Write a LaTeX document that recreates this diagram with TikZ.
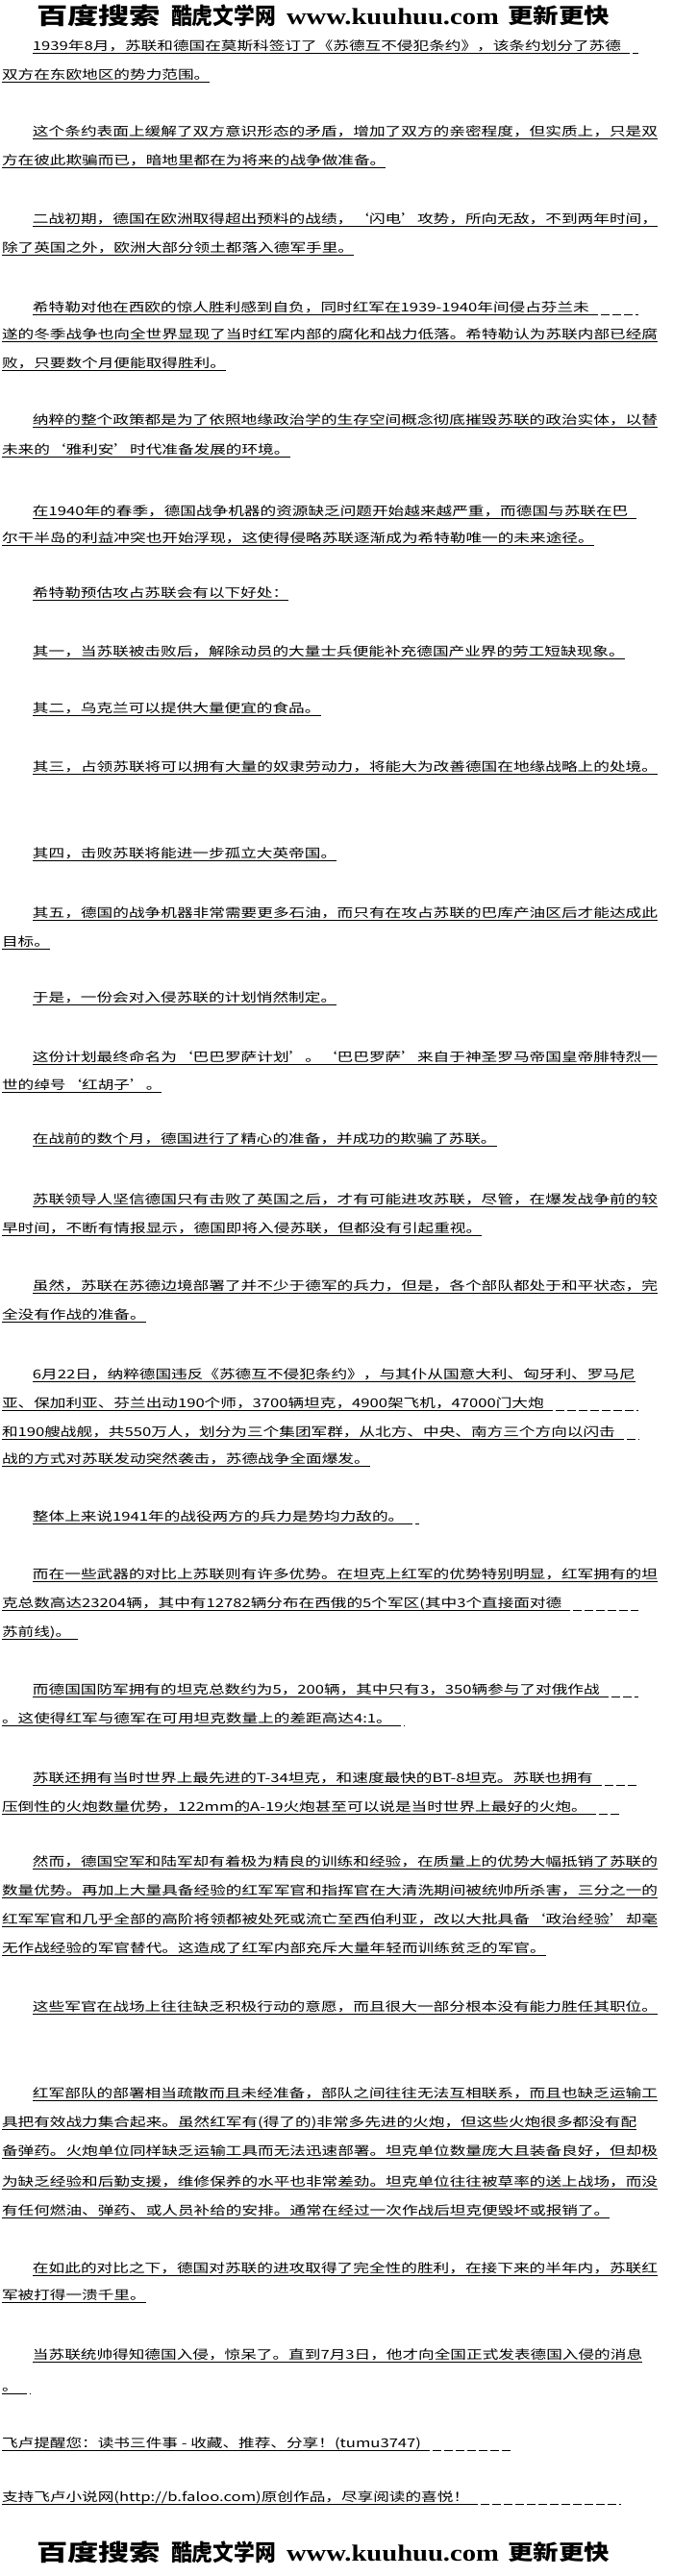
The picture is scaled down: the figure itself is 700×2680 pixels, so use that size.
\documentclass[tikz,border=0pt]{standalone}
\usepackage{fontspec}
\usepackage{graphicx}
\newfontfamily\zh{Noto Sans CJK SC}[FakeStretch=1.3]
\newfontfamily\zhh{Noto Sans CJK SC}
\newfontfamily\lser{Liberation Serif}
\tikzset{
 txt/.style={anchor=base west,inner sep=0pt,outer sep=0pt,font=\zh\fontsize{12.8}{14}\selectfont,text=black},
 ul/.style={line width=0.9pt,black},
 ext/.style={ul,dash pattern=on 9pt off 3pt},
 hdr/.style={anchor=center,inner sep=0pt,outer sep=0pt,text=black}
}
\newcommand\tx[4]{\node[txt] (#1) at (#2,{-(#3+4.5)}) {#4};
 \draw[ul] ([yshift=-3pt]#1.base west) -- ([yshift=-3pt]#1.base east);}
\newcommand\tf[4]{\node[txt] (#1) at (#2,{-(#3+4.5)}) {\resizebox{\dimexpr684pt-#2pt\relax}{\height}{#4}};
 \draw[ul] ([yshift=-3pt]#1.base west) -- ([yshift=-3pt]#1.base east);}
\newcommand\te[5]{\tx{#1}{#2}{#3}{#4}\draw[ext] ([yshift=-3pt]#1.base east) -- (#5,{-(#3+7.5)});}
\newcommand\banner[2]{%
 \node[hdr] (#1a) at (102.5,{-#2}) {\resizebox*{129pt}{23pt}{\zhh\bfseries 百度搜索}};
 \node[hdr] (#1b) at (232.5,{-#2}) {\resizebox*{109pt}{23pt}{\zhh\bfseries 酷虎文学网}};
 \node[hdr] (#1c) at (408.5,{-(#2+1.5)}) {\resizebox*{221pt}{17pt}{\lser\bfseries www.kuuhuu.com}};
 \node[hdr] (#1d) at (581,{-#2}) {\resizebox*{106pt}{21pt}{\zhh\bfseries 更新更快}};}
\begin{document}
\begin{tikzpicture}[x=1pt,y=1pt]
\fill[white] (0,0) rectangle (700,-2680);
\useasboundingbox (0,0) rectangle (700,-2680);
\banner{h}{16}
\te{l1}{34}{48}{1939年8月，苏联和德国在莫斯科签订了《苏德互不侵犯条约》，该条约划分了苏德}{664}
\tx{l2}{2}{78}{双方在东欧地区的势力范围。}
\tf{l3}{34}{137}{这个条约表面上缓解了双方意识形态的矛盾，增加了双方的亲密程度，但实质上，只是双}
\tx{l4}{2}{167}{方在彼此欺骗而已，暗地里都在为将来的战争做准备。}
\tf{l5}{34}{228}{二战初期，德国在欧洲取得超出预料的战绩，‘闪电’攻势，所向无敌，不到两年时间，}
\tx{l6}{2}{258}{除了英国之外，欧洲大部分领土都落入德军手里。}
\te{l7}{34}{320}{希特勒对他在西欧的惊人胜利感到自负，同时红军在1939-1940年间侵占芬兰未}{664}
\tf{l8}{2}{348}{遂的冬季战争也向全世界显现了当时红军内部的腐化和战力低落。希特勒认为苏联内部已经腐}
\tx{l9}{2}{378}{败，只要数个月便能取得胜利。}
\tf{l10}{34}{437}{纳粹的整个政策都是为了依照地缘政治学的生存空间概念彻底摧毁苏联的政治实体，以替}
\tx{l11}{2}{468}{未来的‘雅利安’时代准备发展的环境。}
\te{l12}{34}{532}{在1940年的春季，德国战争机器的资源缺乏问题开始越来越严重，而德国与苏联在巴}{664}
\tx{l13}{2}{560}{尔干半岛的利益冲突也开始浮现，这使得侵略苏联逐渐成为希特勒唯一的未来途径。}
\tx{l14}{34}{617}{希特勒预估攻占苏联会有以下好处：}
\tx{l15}{34}{678}{其一，当苏联被击败后，解除动员的大量士兵便能补充德国产业界的劳工短缺现象。}
\tx{l16}{34}{737}{其二，乌克兰可以提供大量便宜的食品。}
\tf{l17}{34}{798}{其三，占领苏联将可以拥有大量的奴隶劳动力，将能大为改善德国在地缘战略上的处境。}
\tx{l18}{34}{888}{其四，击败苏联将能进一步孤立大英帝国。}
\tf{l19}{34}{950}{其五，德国的战争机器非常需要更多石油，而只有在攻占苏联的巴库产油区后才能达成此}
\tx{l20}{2}{980}{目标。}
\tx{l21}{34}{1038}{于是，一份会对入侵苏联的计划悄然制定。}
\tf{l22}{34}{1100}{这份计划最终命名为‘巴巴罗萨计划’。‘巴巴罗萨’来自于神圣罗马帝国皇帝腓特烈一}
\tx{l23}{2}{1129}{世的绰号‘红胡子’。}
\tx{l24}{34}{1185}{在战前的数个月，德国进行了精心的准备，并成功的欺骗了苏联。}
\tf{l25}{34}{1248}{苏联领导人坚信德国只有击败了英国之后，才有可能进攻苏联，尽管，在爆发战争前的较}
\tx{l26}{2}{1278}{早时间，不断有情报显示，德国即将入侵苏联，但都没有引起重视。}
\tf{l27}{34}{1338}{虽然，苏联在苏德边境部署了并不少于德军的兵力，但是，各个部队都处于和平状态，完}
\tx{l28}{2}{1368}{全没有作战的准备。}
\tx{l29}{34}{1430}{6月22日，纳粹德国违反《苏德互不侵犯条约》，与其仆从国意大利、匈牙利、罗马尼}
\te{l30}{2}{1460}{亚、保加利亚、芬兰出动190个师，3700辆坦克，4900架飞机，47000门大炮}{664}
\te{l31}{2}{1490}{和190艘战舰，共550万人，划分为三个集团军群，从北方、中央、南方三个方向以闪击}{664}
\tx{l32}{2}{1518}{战的方式对苏联发动突然袭击，苏德战争全面爆发。}
\te{l33}{34}{1578}{整体上来说1941年的战役两方的兵力是势均力敌的。}{436}
\tf{l34}{34}{1638}{而在一些武器的对比上苏联则有许多优势。在坦克上红军的优势特别明显，红军拥有的坦}
\te{l35}{2}{1668}{克总数高达23204辆，其中有12782辆分布在西俄的5个军区(其中3个直接面对德}{664}
\te{l36}{2}{1698}{苏前线)。}{81}
\te{l37}{34}{1758}{而德国国防军拥有的坦克总数约为5，200辆，其中只有3，350辆参与了对俄作战}{664}
\te{l38}{2}{1788}{。这使得红军与德军在可用坦克数量上的差距高达4:1。}{420}
\te{l39}{34}{1850}{苏联还拥有当时世界上最先进的T-34坦克，和速度最快的BT-8坦克。苏联也拥有}{664}
\te{l40}{2}{1880}{压倒性的火炮数量优势，122mm的A-19火炮甚至可以说是当时世界上最好的火炮。}{646}
\tf{l41}{34}{1937}{然而，德国空军和陆军却有着极为精良的训练和经验，在质量上的优势大幅抵销了苏联的}
\tf{l42}{2}{1967}{数量优势。再加上大量具备经验的红军军官和指挥官在大清洗期间被统帅所杀害，三分之一的}
\tf{l43}{2}{1997}{红军军官和几乎全部的高阶将领都被处死或流亡至西伯利亚，改以大批具备‘政治经验’却毫}
\tx{l44}{2}{2027}{无作战经验的军官替代。这造成了红军内部充斥大量年轻而训练贫乏的军官。}
\tf{l45}{34}{2088}{这些军官在战场上往往缺乏积极行动的意愿，而且很大一部分根本没有能力胜任其职位。}
\tf{l46}{34}{2178}{红军部队的部署相当疏散而且未经准备，部队之间往往无法互相联系，而且也缺乏运输工}
\tx{l47}{2}{2208}{具把有效战力集合起来。虽然红军有(得了的)非常多先进的火炮，但这些火炮很多都没有配}
\tf{l48}{2}{2238}{备弹药。火炮单位同样缺乏运输工具而无法迅速部署。坦克单位数量庞大且装备良好，但却极}
\tf{l49}{2}{2270}{为缺乏经验和后勤支援，维修保养的水平也非常差劲。坦克单位往往被草率的送上战场，而没}
\tx{l50}{2}{2300}{有任何燃油、弹药、或人员补给的安排。通常在经过一次作战后坦克便毁坏或报销了。}
\tf{l51}{34}{2360}{在如此的对比之下，德国对苏联的进攻取得了完全性的胜利，在接下来的半年内，苏联红}
\tx{l52}{2}{2388}{军被打得一溃千里。}
\tx{l53}{34}{2450}{当苏联统帅得知德国入侵，惊呆了。直到7月3日，他才向全国正式发表德国入侵的消息}
\te{l54}{2}{2483}{。}{32}
\te{l55}{2}{2542}{飞卢提醒您：读书三件事 - 收藏、推荐、分享！(tumu3747)}{533}
\te{l56}{2}{2598}{支持飞卢小说网(http://b.faloo.com)原创作品，尽享阅读的喜悦！}{646}
\banner{f}{2655}
\end{tikzpicture}
\end{document}
